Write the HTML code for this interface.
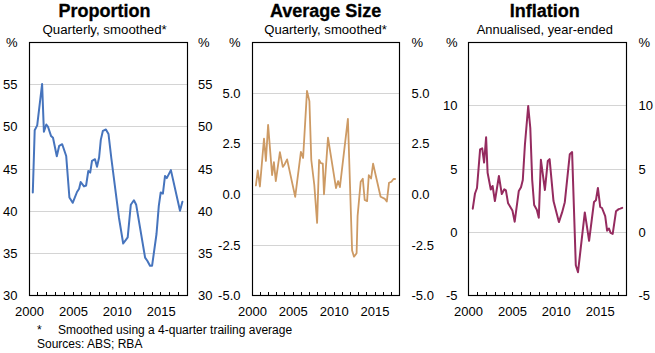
<!DOCTYPE html>
<html><head><meta charset="utf-8"><style>
html,body{margin:0;padding:0;background:#fff;width:655px;height:353px;overflow:hidden}
svg{display:block}
</style></head><body>
<svg width="655" height="353" viewBox="0 0 655 353" font-family="'Liberation Sans', sans-serif" font-size="13" fill="#000">
<line x1="29.5" x2="187.5" y1="253.5" y2="253.5" stroke="#d4d4d4" stroke-width="1"/>
<line x1="29.5" x2="187.5" y1="211.5" y2="211.5" stroke="#d4d4d4" stroke-width="1"/>
<line x1="29.5" x2="187.5" y1="169.5" y2="169.5" stroke="#d4d4d4" stroke-width="1"/>
<line x1="29.5" x2="187.5" y1="126.5" y2="126.5" stroke="#d4d4d4" stroke-width="1"/>
<line x1="29.5" x2="187.5" y1="84.5" y2="84.5" stroke="#d4d4d4" stroke-width="1"/>
<line x1="37.5" x2="37.5" y1="295.5" y2="292.0" stroke="#000" stroke-width="1"/>
<line x1="46.5" x2="46.5" y1="295.5" y2="292.0" stroke="#000" stroke-width="1"/>
<line x1="55.5" x2="55.5" y1="295.5" y2="292.0" stroke="#000" stroke-width="1"/>
<line x1="64.5" x2="64.5" y1="295.5" y2="292.0" stroke="#000" stroke-width="1"/>
<line x1="73.5" x2="73.5" y1="295.5" y2="292.0" stroke="#000" stroke-width="1"/>
<line x1="81.5" x2="81.5" y1="295.5" y2="292.0" stroke="#000" stroke-width="1"/>
<line x1="90.5" x2="90.5" y1="295.5" y2="292.0" stroke="#000" stroke-width="1"/>
<line x1="99.5" x2="99.5" y1="295.5" y2="292.0" stroke="#000" stroke-width="1"/>
<line x1="108.5" x2="108.5" y1="295.5" y2="292.0" stroke="#000" stroke-width="1"/>
<line x1="116.5" x2="116.5" y1="295.5" y2="292.0" stroke="#000" stroke-width="1"/>
<line x1="125.5" x2="125.5" y1="295.5" y2="292.0" stroke="#000" stroke-width="1"/>
<line x1="134.5" x2="134.5" y1="295.5" y2="292.0" stroke="#000" stroke-width="1"/>
<line x1="143.5" x2="143.5" y1="295.5" y2="292.0" stroke="#000" stroke-width="1"/>
<line x1="152.5" x2="152.5" y1="295.5" y2="292.0" stroke="#000" stroke-width="1"/>
<line x1="160.5" x2="160.5" y1="295.5" y2="292.0" stroke="#000" stroke-width="1"/>
<line x1="169.5" x2="169.5" y1="295.5" y2="292.0" stroke="#000" stroke-width="1"/>
<line x1="178.5" x2="178.5" y1="295.5" y2="292.0" stroke="#000" stroke-width="1"/>
<polyline points="32.8,192.5 34.7,130.2 37.2,125.4 42.1,84.0 43.9,131.8 46.3,124.5 47.9,126.5 51.1,136.1 53,137.8 56.8,156.3 59.2,145.8 62.2,144.2 66.2,156 69.4,197.4 72.7,202.8 77,192 79.1,188.8 80.7,182 84,186.4 86.1,185.5 88.3,171 90.2,172.6 92,160.8 95,159.2 97,166.7 99.1,157.5 100.8,139.9 102.9,130.8 105.9,129.5 108.5,134 111.3,158 119,218 123.2,243.5 127.7,237.3 130.8,204.8 133.9,200.3 136.2,204.8 145.1,257.6 147.3,260.8 150,265.7 152.1,265.7 156.5,234 158.8,205.8 160.7,192.5 162.9,193.6 165,176 166.8,178.1 170.9,170.1 180,210.8 182.4,201.7" fill="none" stroke="#4674bd" stroke-width="2.0" stroke-linejoin="round" stroke-linecap="round"/>
<rect x="29.5" y="42.5" width="158.0" height="253.0" fill="none" stroke="#000" stroke-width="1.15"/>
<text x="17.5" y="300.1" text-anchor="end">30</text>
<text x="198" y="300.1" text-anchor="start">30</text>
<text x="17.5" y="257.9" text-anchor="end">35</text>
<text x="198" y="257.9" text-anchor="start">35</text>
<text x="17.5" y="215.8" text-anchor="end">40</text>
<text x="198" y="215.8" text-anchor="start">40</text>
<text x="17.5" y="173.6" text-anchor="end">45</text>
<text x="198" y="173.6" text-anchor="start">45</text>
<text x="17.5" y="131.4" text-anchor="end">50</text>
<text x="198" y="131.4" text-anchor="start">50</text>
<text x="17.5" y="89.3" text-anchor="end">55</text>
<text x="198" y="89.3" text-anchor="start">55</text>
<text x="17.5" y="47" text-anchor="end">%</text>
<text x="198" y="47" text-anchor="start">%</text>
<text x="29.5" y="315.8" text-anchor="middle">2000</text>
<text x="73.4" y="315.8" text-anchor="middle">2005</text>
<text x="117.3" y="315.8" text-anchor="middle">2010</text>
<text x="161.2" y="315.8" text-anchor="middle">2015</text>
<text x="104.6" y="17" text-anchor="middle" font-weight="bold" font-size="18" stroke="#000" stroke-width="0.3">Proportion</text>
<text x="104.6" y="33.5" text-anchor="middle" font-size="13.25">Quarterly, smoothed*</text>
<line x1="252.5" x2="399.5" y1="245.5" y2="245.5" stroke="#d4d4d4" stroke-width="1"/>
<line x1="252.5" x2="399.5" y1="194.5" y2="194.5" stroke="#d4d4d4" stroke-width="1"/>
<line x1="252.5" x2="399.5" y1="143.5" y2="143.5" stroke="#d4d4d4" stroke-width="1"/>
<line x1="252.5" x2="399.5" y1="93.5" y2="93.5" stroke="#d4d4d4" stroke-width="1"/>
<line x1="260.5" x2="260.5" y1="295.5" y2="292.0" stroke="#000" stroke-width="1"/>
<line x1="268.5" x2="268.5" y1="295.5" y2="292.0" stroke="#000" stroke-width="1"/>
<line x1="276.5" x2="276.5" y1="295.5" y2="292.0" stroke="#000" stroke-width="1"/>
<line x1="284.5" x2="284.5" y1="295.5" y2="292.0" stroke="#000" stroke-width="1"/>
<line x1="293.5" x2="293.5" y1="295.5" y2="292.0" stroke="#000" stroke-width="1"/>
<line x1="301.5" x2="301.5" y1="295.5" y2="292.0" stroke="#000" stroke-width="1"/>
<line x1="309.5" x2="309.5" y1="295.5" y2="292.0" stroke="#000" stroke-width="1"/>
<line x1="317.5" x2="317.5" y1="295.5" y2="292.0" stroke="#000" stroke-width="1"/>
<line x1="325.5" x2="325.5" y1="295.5" y2="292.0" stroke="#000" stroke-width="1"/>
<line x1="334.5" x2="334.5" y1="295.5" y2="292.0" stroke="#000" stroke-width="1"/>
<line x1="342.5" x2="342.5" y1="295.5" y2="292.0" stroke="#000" stroke-width="1"/>
<line x1="350.5" x2="350.5" y1="295.5" y2="292.0" stroke="#000" stroke-width="1"/>
<line x1="358.5" x2="358.5" y1="295.5" y2="292.0" stroke="#000" stroke-width="1"/>
<line x1="366.5" x2="366.5" y1="295.5" y2="292.0" stroke="#000" stroke-width="1"/>
<line x1="375.5" x2="375.5" y1="295.5" y2="292.0" stroke="#000" stroke-width="1"/>
<line x1="383.5" x2="383.5" y1="295.5" y2="292.0" stroke="#000" stroke-width="1"/>
<line x1="391.5" x2="391.5" y1="295.5" y2="292.0" stroke="#000" stroke-width="1"/>
<polyline points="255.9,185.5 257.75,170.5 259.9,186.5 264,138.7 265.9,161 268.1,124.9 272.1,175.1 273.9,162.1 275.8,181.1 279.9,152.1 282.8,166.9 284.7,164.2 287.1,159.4 295.2,196.8 300.9,151.8 303.1,158 307,90.9 309.4,101.1 311.3,160 314.3,185 317.1,222.9 319.1,159.9 320.9,163.1 322.8,163.7 324,194.3 328,137.6 336,188.1 338.1,181.1 339.9,187.1 347.9,118.8 352.1,250.5 354,256.7 356.6,253.3 357.6,216 360.7,181.7 362.8,178.8 364.7,200 367.1,201.1 368.8,175.2 371.1,178.5 373.1,163.7 375.7,175.2 380.6,196.8 384.9,198.9 386.8,201.6 389,182.8 391.4,181.7 393.5,179 395.1,179" fill="none" stroke="#cd9a64" stroke-width="1.8" stroke-linejoin="round" stroke-linecap="round"/>
<rect x="252.5" y="42.5" width="147.0" height="253.0" fill="none" stroke="#000" stroke-width="1.15"/>
<text x="240.5" y="300.1" text-anchor="end">-5.0</text>
<text x="411.5" y="300.1" text-anchor="start">-5.0</text>
<text x="240.5" y="249.5" text-anchor="end">-2.5</text>
<text x="411.5" y="249.5" text-anchor="start">-2.5</text>
<text x="240.5" y="198.9" text-anchor="end">0.0</text>
<text x="411.5" y="198.9" text-anchor="start">0.0</text>
<text x="240.5" y="148.3" text-anchor="end">2.5</text>
<text x="411.5" y="148.3" text-anchor="start">2.5</text>
<text x="240.5" y="97.7" text-anchor="end">5.0</text>
<text x="411.5" y="97.7" text-anchor="start">5.0</text>
<text x="240.5" y="47" text-anchor="end">%</text>
<text x="411.5" y="47" text-anchor="start">%</text>
<text x="252.5" y="315.8" text-anchor="middle">2000</text>
<text x="293.3" y="315.8" text-anchor="middle">2005</text>
<text x="334.2" y="315.8" text-anchor="middle">2010</text>
<text x="375.0" y="315.8" text-anchor="middle">2015</text>
<text x="325.6" y="17" text-anchor="middle" font-weight="bold" font-size="18" stroke="#000" stroke-width="0.3">Average Size</text>
<text x="325.6" y="33.5" text-anchor="middle" font-size="13.1">Quarterly, smoothed*</text>
<line x1="468.5" x2="626.5" y1="232.5" y2="232.5" stroke="#d4d4d4" stroke-width="1"/>
<line x1="468.5" x2="626.5" y1="169.5" y2="169.5" stroke="#d4d4d4" stroke-width="1"/>
<line x1="468.5" x2="626.5" y1="105.5" y2="105.5" stroke="#d4d4d4" stroke-width="1"/>
<line x1="477.5" x2="477.5" y1="295.5" y2="292.0" stroke="#000" stroke-width="1"/>
<line x1="486.5" x2="486.5" y1="295.5" y2="292.0" stroke="#000" stroke-width="1"/>
<line x1="495.5" x2="495.5" y1="295.5" y2="292.0" stroke="#000" stroke-width="1"/>
<line x1="504.5" x2="504.5" y1="295.5" y2="292.0" stroke="#000" stroke-width="1"/>
<line x1="512.5" x2="512.5" y1="295.5" y2="292.0" stroke="#000" stroke-width="1"/>
<line x1="521.5" x2="521.5" y1="295.5" y2="292.0" stroke="#000" stroke-width="1"/>
<line x1="530.5" x2="530.5" y1="295.5" y2="292.0" stroke="#000" stroke-width="1"/>
<line x1="539.5" x2="539.5" y1="295.5" y2="292.0" stroke="#000" stroke-width="1"/>
<line x1="547.5" x2="547.5" y1="295.5" y2="292.0" stroke="#000" stroke-width="1"/>
<line x1="556.5" x2="556.5" y1="295.5" y2="292.0" stroke="#000" stroke-width="1"/>
<line x1="565.5" x2="565.5" y1="295.5" y2="292.0" stroke="#000" stroke-width="1"/>
<line x1="574.5" x2="574.5" y1="295.5" y2="292.0" stroke="#000" stroke-width="1"/>
<line x1="583.5" x2="583.5" y1="295.5" y2="292.0" stroke="#000" stroke-width="1"/>
<line x1="591.5" x2="591.5" y1="295.5" y2="292.0" stroke="#000" stroke-width="1"/>
<line x1="600.5" x2="600.5" y1="295.5" y2="292.0" stroke="#000" stroke-width="1"/>
<line x1="609.5" x2="609.5" y1="295.5" y2="292.0" stroke="#000" stroke-width="1"/>
<line x1="618.5" x2="618.5" y1="295.5" y2="292.0" stroke="#000" stroke-width="1"/>
<polyline points="472.75,208.7 475,193.5 477,188 480.1,149.4 482.2,148.4 484.1,162.5 486.1,137.3 487.6,172.8 490.8,189.6 492.6,186 494.9,201.1 498.9,176 501.8,194.1 504.3,189.3 505.9,190.4 508.1,203.3 512.4,210.4 514.7,221.7 518.8,190.9 521,187.2 522.8,180 524.9,145 528.2,106 530.3,128 532.2,180 534.15,205 536.8,209.8 538.8,217.8 540.9,159.8 544.9,190 547.8,160.9 549.6,159.1 553.5,201.1 558.9,222.1 562.1,212.4 564.8,202.2 569.8,154.2 572.1,152.1 575.8,265.3 578,272.2 584.8,212.4 589.1,240.8 594,202 595.9,200.3 597.9,187.9 600.2,206.9 602,208 605.2,216.1 607.1,230.7 609,228.5 610.6,232.8 612.7,233.9 616,211.3 618.7,209.1 620.3,208.6 622.2,207.8" fill="none" stroke="#952b5f" stroke-width="2.0" stroke-linejoin="round" stroke-linecap="round"/>
<rect x="468.5" y="42.5" width="158.0" height="253.0" fill="none" stroke="#000" stroke-width="1.15"/>
<text x="457.5" y="300.1" text-anchor="end">-5</text>
<text x="638.5" y="300.1" text-anchor="start">-5</text>
<text x="457.5" y="236.8" text-anchor="end">0</text>
<text x="638.5" y="236.8" text-anchor="start">0</text>
<text x="457.5" y="173.6" text-anchor="end">5</text>
<text x="638.5" y="173.6" text-anchor="start">5</text>
<text x="457.5" y="110.3" text-anchor="end">10</text>
<text x="638.5" y="110.3" text-anchor="start">10</text>
<text x="457.5" y="47" text-anchor="end">%</text>
<text x="638.5" y="47" text-anchor="start">%</text>
<text x="468.5" y="315.8" text-anchor="middle">2000</text>
<text x="512.4" y="315.8" text-anchor="middle">2005</text>
<text x="556.3" y="315.8" text-anchor="middle">2010</text>
<text x="600.2" y="315.8" text-anchor="middle">2015</text>
<text x="544.8" y="17" text-anchor="middle" font-weight="bold" font-size="18" stroke="#000" stroke-width="0.3">Inflation</text>
<text x="544.8" y="33.5" text-anchor="middle" font-size="12.9">Annualised, year-ended</text>
<text x="37" y="334" font-size="12">*</text>
<text x="58" y="334" font-size="12">Smoothed using a 4-quarter trailing average</text>
<text x="37" y="348" font-size="12">Sources: ABS; RBA</text>
</svg>
</body></html>
